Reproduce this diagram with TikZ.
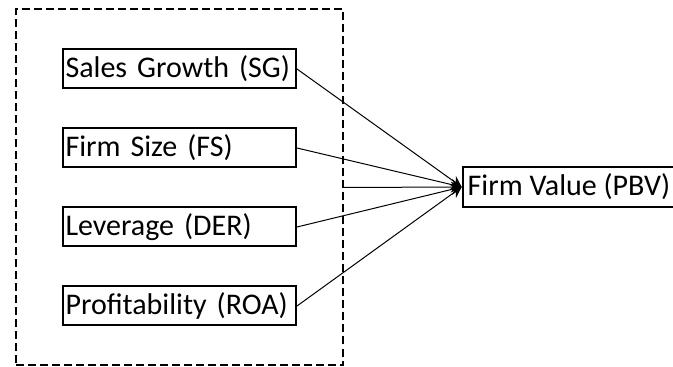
\documentclass[tikz,border=0pt]{standalone}
\usepackage{fontspec}
\setmainfont{Carlito}
\usepackage{tikz}
\usetikzlibrary{arrows.meta, positioning, fit}
\tikzset{
  var/.style={rectangle, draw=black, line width=1pt, text width=114pt,
    align=left, minimum height=19.5pt, inner xsep=1.25pt, inner ysep=0pt,
    font=\fontsize{15}{17}\selectfont},
  dep/.style={rectangle, draw=black, line width=1pt, minimum height=20pt,
    inner xsep=2.5pt, inner ysep=0pt, font=\fontsize{15}{17}\selectfont},
  group/.style={rectangle, draw=black, line width=1pt,
    dash pattern=on 4pt off 2pt, inner xsep=23pt, inner ysep=19.5pt},
  arrow/.style={-{Stealth[length=5.5pt, width=5.5pt]}, line width=0.5pt}
}
\begin{document}
\begin{tikzpicture}[node distance=19pt]
  \useasboundingbox (0,0) rectangle (336.5pt,-183.5pt);
  \node[var] (sg) at (89.75pt,-34.5pt) {Sales Growth (SG)};
  \node[var, below=of sg] (fs) {Firm Size (FS)};
  \node[var, below=of fs] (der) {Leverage (DER)};
  \node[var, below=of der] (roa) {Profitability (ROA)};
  \node[dep] (pbv) at (284.5pt,-93.5pt) {Firm Value (PBV)};
  \node[group, fit=(sg) (roa)] (ind) {};

  \draw[arrow] (sg.east) -- (pbv.west);
  \draw[arrow] (fs.east) -- (pbv.west);
  \draw[arrow] (ind.east) -- (pbv.west);
  \draw[arrow] (der.east) -- (pbv.west);
  \draw[arrow] (roa.east) -- (pbv.west);
\end{tikzpicture}
\end{document}
